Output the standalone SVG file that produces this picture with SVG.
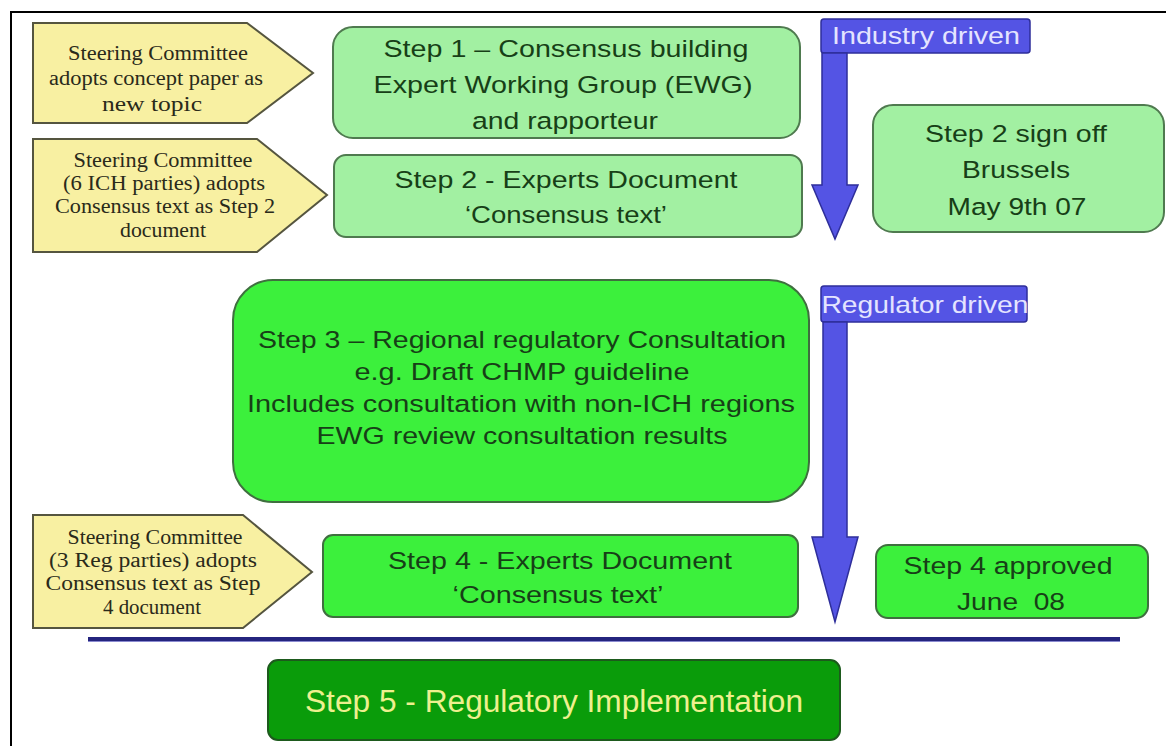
<svg xmlns="http://www.w3.org/2000/svg" width="1166" height="746" viewBox="0 0 1166 746">
<style>
.pent{fill:#f8f0a2;stroke:#55553f;stroke-width:2}
.pt{font-family:"Liberation Serif","Times New Roman",serif;font-size:20.5px;fill:#2a2a1a;text-anchor:middle}
.lg{fill:#a2f0a2;stroke:#4f7a4f;stroke-width:2}
.bg{fill:#3cf03c;stroke:#3f6f3f;stroke-width:2}
.bt{font-family:"Liberation Sans",Arial,sans-serif;font-size:24.5px;fill:#173f17;text-anchor:middle}
.lab{fill:#5454e4;stroke:#2e2e9a;stroke-width:1.5}
.lt{font-family:"Liberation Sans",Arial,sans-serif;font-size:24px;fill:#e4e4ff;text-anchor:middle}
.arr{fill:#5454e4;stroke:#2e2e9a;stroke-width:1.5}
</style>
<rect x="0" y="0" width="1166" height="746" fill="#ffffff"/>
<path d="M11,746 V12 H1166" fill="none" stroke="#000" stroke-width="2"/>

<g id="sc1">
<path class="pent" d="M33,23 H247 L313,73 L247,123 H33 Z"/>
<text class="pt" x="158" y="60" textLength="180" lengthAdjust="spacingAndGlyphs">Steering Committee</text>
<text class="pt" x="156" y="85" textLength="214" lengthAdjust="spacingAndGlyphs">adopts concept paper as</text>
<text class="pt" x="152" y="111" textLength="100" lengthAdjust="spacingAndGlyphs">new topic</text>
</g>

<g id="sc2">
<path class="pent" d="M33,139 H257 L327,195 L257,252 H33 Z"/>
<text class="pt" x="163" y="167" textLength="179" lengthAdjust="spacingAndGlyphs">Steering Committee</text>
<text class="pt" x="164" y="190" textLength="202" lengthAdjust="spacingAndGlyphs">(6 ICH parties) adopts</text>
<text class="pt" x="165" y="213" textLength="220" lengthAdjust="spacingAndGlyphs">Consensus text as Step 2</text>
<text class="pt" x="163" y="237" textLength="86" lengthAdjust="spacingAndGlyphs">document</text>
</g>

<g id="sc3">
<path class="pent" d="M33,515 H243 L312,572 L243,628 H33 Z"/>
<text class="pt" x="155" y="544" textLength="175" lengthAdjust="spacingAndGlyphs">Steering Committee</text>
<text class="pt" x="153" y="567" textLength="208" lengthAdjust="spacingAndGlyphs">(3 Reg parties) adopts</text>
<text class="pt" x="153" y="590" textLength="215" lengthAdjust="spacingAndGlyphs">Consensus text as Step</text>
<text class="pt" x="152" y="614" textLength="98" lengthAdjust="spacingAndGlyphs">4 document</text>
</g>

<g id="step1">
<rect class="lg" x="333" y="27" width="467" height="111" rx="20"/>
<text class="bt" x="566" y="57" textLength="365" lengthAdjust="spacingAndGlyphs">Step 1 – Consensus building</text>
<text class="bt" x="563" y="93" textLength="379" lengthAdjust="spacingAndGlyphs">Expert Working Group (EWG)</text>
<text class="bt" x="565" y="129" textLength="186" lengthAdjust="spacingAndGlyphs">and rapporteur</text>
</g>

<g id="step2">
<rect class="lg" x="334" y="155" width="468" height="82" rx="12"/>
<text class="bt" x="566" y="188" textLength="343" lengthAdjust="spacingAndGlyphs">Step 2 - Experts Document</text>
<text class="bt" x="566" y="223" textLength="202" lengthAdjust="spacingAndGlyphs">‘Consensus text’</text>
</g>

<g id="signoff">
<rect class="lg" x="873" y="105" width="291" height="127" rx="20"/>
<text class="bt" x="1016" y="142" textLength="182" lengthAdjust="spacingAndGlyphs">Step 2 sign off</text>
<text class="bt" x="1016" y="178" textLength="108" lengthAdjust="spacingAndGlyphs">Brussels</text>
<text class="bt" x="1017" y="215" textLength="139" lengthAdjust="spacingAndGlyphs">May 9th 07</text>
</g>

<g id="step3">
<rect class="bg" x="233" y="280" width="576" height="222" rx="40"/>
<text class="bt" x="522" y="348" textLength="528" lengthAdjust="spacingAndGlyphs">Step 3 – Regional regulatory Consultation</text>
<text class="bt" x="522" y="380" textLength="335" lengthAdjust="spacingAndGlyphs">e.g. Draft CHMP guideline</text>
<text class="bt" x="521" y="412" textLength="548" lengthAdjust="spacingAndGlyphs">Includes consultation with non-ICH regions</text>
<text class="bt" x="522" y="444" textLength="411" lengthAdjust="spacingAndGlyphs">EWG review consultation results</text>
</g>

<g id="step4">
<rect class="bg" x="323" y="535" width="475" height="82" rx="10"/>
<text class="bt" x="560" y="569" textLength="344" lengthAdjust="spacingAndGlyphs">Step 4 - Experts Document</text>
<text class="bt" x="558" y="603" textLength="211" lengthAdjust="spacingAndGlyphs">‘Consensus text’</text>
</g>

<g id="approved">
<rect class="bg" x="876" y="545" width="272" height="73" rx="12"/>
<text class="bt" x="1008" y="574" textLength="209" lengthAdjust="spacingAndGlyphs">Step 4 approved</text>
<text class="bt" x="1011" y="610" textLength="108" lengthAdjust="spacingAndGlyphs" xml:space="preserve">June  08</text>
</g>

<g id="step5">
<rect x="268" y="660" width="572" height="80" rx="10" fill="#0a9c0a" stroke="#1d5a1d" stroke-width="2"/>
<text x="554" y="712" textLength="498" lengthAdjust="spacingAndGlyphs" font-family="Liberation Sans, Arial, sans-serif" font-size="31" fill="#eef08e" text-anchor="middle">Step 5 - Regulatory Implementation</text>
</g>

<g id="industry">
<rect class="lab" x="821" y="19" width="209" height="34" rx="3"/>
<text class="lt" x="926" y="44" textLength="188" lengthAdjust="spacingAndGlyphs">Industry driven</text>
</g>

<g id="regulator">
<rect class="lab" x="821" y="286" width="206" height="36" rx="3"/>
<text class="lt" x="925" y="313" textLength="207" lengthAdjust="spacingAndGlyphs">Regulator driven</text>
</g>

<g id="connectors">
<path class="arr" d="M822,53 H847 V185 H858 L835,239 L812,185 H822 Z"/>
<path class="arr" d="M823,322 H847 V537 H858 L835,622 L812,537 H823 Z"/>
</g>

<g id="separator">
<line x1="88" y1="639" x2="1120" y2="639" stroke="#24247e" stroke-width="4"/>
<line x1="88" y1="641.5" x2="1120" y2="641.5" stroke="#8a8ad0" stroke-width="1"/>
</g>
</svg>
